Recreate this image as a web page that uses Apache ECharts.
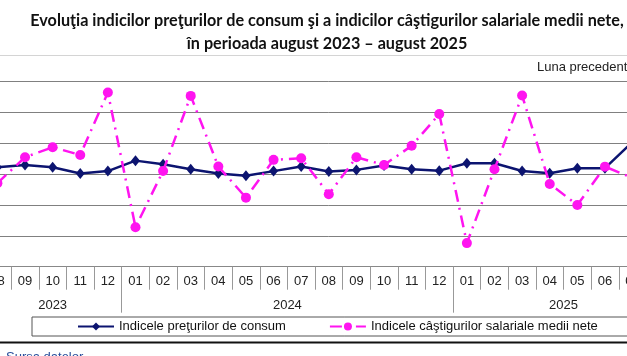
<!DOCTYPE html>
<html>
<head>
<meta charset="utf-8">
<script src="https://cdn.jsdelivr.net/npm/echarts@6/dist/echarts.min.js"></script>
<style>
html,body{margin:0;padding:0;overflow:hidden;background:#fff;width:627px;height:356px;}
#chart{position:absolute;left:-60px;top:0;width:800px;height:356px;}
</style>
</head>
<body>
<div id="chart"></div>
<script>
// ---- data ----
const periods = ['2023-08','2023-09','2023-10','2023-11','2023-12',
  '2024-01','2024-02','2024-03','2024-04','2024-05','2024-06','2024-07','2024-08','2024-09','2024-10','2024-11','2024-12',
  '2025-01','2025-02','2025-03','2025-04','2025-05','2025-06','2025-07','2025-08'];
const seriesNames = ['Indicele preţurilor de consum', 'Indicele câştigurilor salariale medii nete'];
const cpiValues = [100.45,100.60,100.45,100.05,100.20,100.88,100.65,100.32,100.05,99.90,100.20,100.50,100.17,100.28,100.56,100.32,100.23,100.71,100.71,100.21,100.06,100.39,100.39,102.10,100.30];
const wageValues = [99.42,101.10,101.75,101.25,105.30,96.56,100.21,105.08,100.50,98.48,100.93,101.04,98.70,101.10,100.60,101.84,103.90,95.53,100.32,105.10,99.37,98.00,100.49,99.76,99.00];
const titleLines = ['Evoluţia indicilor preţurilor de consum şi a indicilor câştigurilor salariale medii nete,', 'în perioada august 2023 – august 2025'];
const unitNote = 'Luna precedentă = 100';
const sourceNote = 'Sursa datelor';

// ---- derived ----
const monthLabels = periods.map(p => p.split('-')[1]);
const yearOf = periods.map(p => p.split('-')[0]);
const yearList = [...new Set(yearOf)];
const yearStart = yearList.map(y => yearOf.indexOf(y));
const yearEnd = yearList.map(y => yearOf.lastIndexOf(y) + 1);
const yearCenters = yearList.map((y, k) => (yearStart[k] + yearEnd[k]) / 2);
const yearBounds = yearStart.slice(1);

const OX = 60; // chart div offset
const W = 800;
const font = '"Liberation Sans", Arial, sans-serif';

const chart = echarts.init(document.getElementById('chart'), null, {renderer: 'canvas'});
chart.setOption({
  animation: false,
  backgroundColor: '#fff',
  graphic: [
    {type: 'text', x: OX + 327, y: 13, style: {text: titleLines[0], font: 'bold 16.2px Lato', fill: '#111', textAlign: 'center'}},
    {type: 'text', x: OX + 327, y: 36, style: {text: titleLines[1], font: 'bold 16.2px Lato', fill: '#111', textAlign: 'center'}},
    {type: 'line', shape: {x1: 0, y1: 55.5, x2: W, y2: 55.5}, style: {stroke: '#d4d4d4', lineWidth: 1}},
    {type: 'text', x: OX + 537, y: 61, style: {text: unitNote, font: '13px ' + font, fill: '#222'}},
    {type: 'line', shape: {x1: 0, y1: 342.5, x2: W, y2: 342.5}, style: {stroke: '#111', lineWidth: 2}},
    {type: 'text', x: OX + 6, y: 351, style: {text: sourceNote, font: '13px ' + font, fill: '#2a4f9c'}}
  ],
  legend: {
    data: seriesNames,
    left: OX + 32, top: 317,
    padding: [3, 60, 3, 45],
    itemGap: 43, itemWidth: 36, itemHeight: 10,
    borderColor: '#555', borderWidth: 1, backgroundColor: '#fff',
    textStyle: {fontFamily: font, fontSize: 13, color: '#111'}
  },
  grid: {left: OX - 16.4, right: W - (OX + 674), top: 81.7, bottom: 356 - 266.7, containLabel: false},
  xAxis: [
    {
      type: 'category', data: monthLabels, boundaryGap: true, position: 'bottom',
      axisLine: {show: true, lineStyle: {color: '#888', width: 1}},
      axisTick: {show: true, length: 23, interval: 0, lineStyle: {color: '#999'}},
      axisLabel: {interval: 0, margin: 8, fontFamily: font, fontSize: 13, color: '#222'},
      splitLine: {show: false}
    },
    {
      type: 'value', min: 0, max: periods.length, position: 'bottom',
      axisLine: {show: false},
      splitLine: {show: false},
      axisTick: {show: true, customValues: yearBounds, length: 46, lineStyle: {color: '#999'}},
      axisLabel: {customValues: yearCenters, margin: 32, fontFamily: font, fontSize: 13, color: '#222',
        formatter: v => yearList[yearCenters.indexOf(v)]}
    }
  ],
  yAxis: {
    type: 'value', min: 94, max: 106, interval: 2,
    axisLine: {show: false}, axisTick: {show: false}, axisLabel: {show: false},
    splitLine: {show: true, lineStyle: {color: '#808080', width: 1}}
  },
  series: [
    {
      name: seriesNames[0], type: 'line', xAxisIndex: 0, data: cpiValues,
      symbol: 'diamond', symbolSize: [9, 11], z: 3,
      lineStyle: {color: '#0c1470', width: 2.5},
      itemStyle: {color: '#0c1470'}
    },
    {
      name: seriesNames[1], type: 'line', xAxisIndex: 0, data: wageValues,
      symbol: 'circle', symbolSize: 10, z: 4,
      lineStyle: {color: '#ff14f0', width: 2.5, type: [12, 6, 2, 6]},
      itemStyle: {color: '#ff14f0'}
    }
  ]
});
</script>
</body>
</html>
